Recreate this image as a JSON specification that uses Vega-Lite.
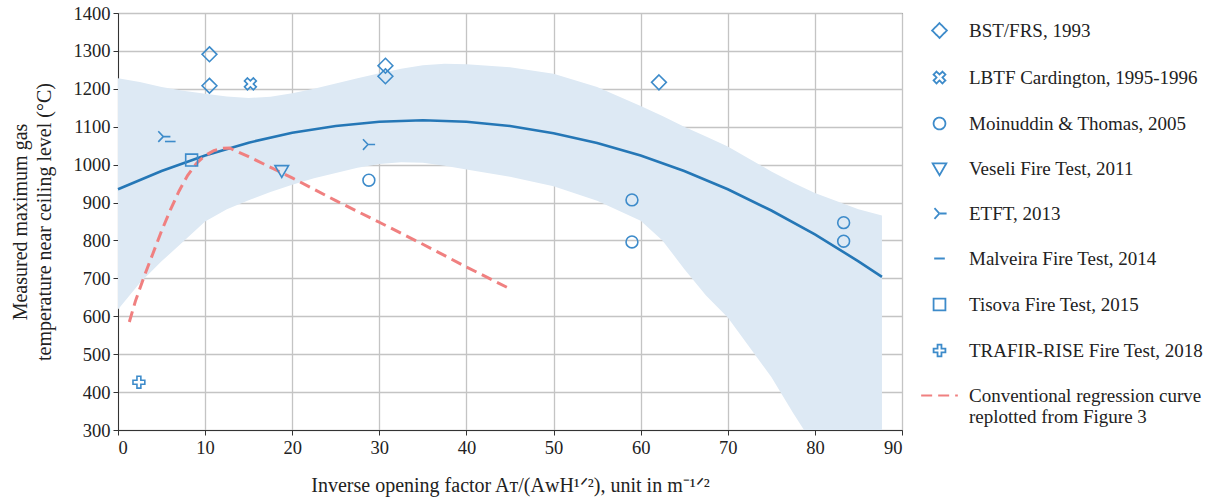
{
  "$schema": "https://vega.github.io/schema/vega-lite/v6.json",
  "autosize": {"type": "none"},
  "padding": {"left": 118, "top": 13, "right": 318, "bottom": 71},
  "width": 784,
  "height": 417,
  "background": "white",
  "config": {
    "font": "Liberation Serif",
    "view": {"stroke": "#333333", "strokeWidth": 1},
    "axis": {
      "labelFont": "Liberation Serif", "labelFontSize": 18.5, "labelColor": "#222222",
      "titleFont": "Liberation Serif", "titleFontSize": 20, "titleFontWeight": "normal", "titleColor": "#222222",
      "tickColor": "#333333", "tickSize": 5, "domainColor": "#333333",
      "gridColor": "#c4c4c4", "gridWidth": 1.3, "labelOverlap": false
    },
    "legend": {
      "labelFont": "Liberation Serif", "labelFontSize": 19, "labelColor": "#222222"
    }
  },
  "datasets": {
    "points": [
      {"series": "BST/FRS, 1993", "x": 10.5, "y": 1291},
      {"series": "BST/FRS, 1993", "x": 10.5, "y": 1208},
      {"series": "BST/FRS, 1993", "x": 30.7, "y": 1261},
      {"series": "BST/FRS, 1993", "x": 30.7, "y": 1233},
      {"series": "BST/FRS, 1993", "x": 62.1, "y": 1217},
      {"series": "LBTF Cardington, 1995-1996", "x": 15.2, "y": 1213},
      {"series": "Moinuddin & Thomas, 2005", "x": 28.8, "y": 959},
      {"series": "Moinuddin & Thomas, 2005", "x": 59.0, "y": 907},
      {"series": "Moinuddin & Thomas, 2005", "x": 59.0, "y": 796},
      {"series": "Moinuddin & Thomas, 2005", "x": 83.3, "y": 847},
      {"series": "Moinuddin & Thomas, 2005", "x": 83.3, "y": 798},
      {"series": "Veseli Fire Test, 2011", "x": 18.8, "y": 984},
      {"series": "ETFT, 2013", "x": 5.2, "y": 1074},
      {"series": "ETFT, 2013", "x": 28.7, "y": 1053},
      {"series": "Malveira Fire Test, 2014", "x": 6.0, "y": 1061},
      {"series": "Tisova Fire Test, 2015", "x": 8.45, "y": 1012},
      {"series": "TRAFIR-RISE Fire Test, 2018", "x": 2.4, "y": 426}
    ],
    "fit": [
      {"x": 0, "y": 935}, {"x": 5, "y": 983}, {"x": 10, "y": 1024}, {"x": 15, "y": 1058},
      {"x": 20, "y": 1084}, {"x": 25, "y": 1102}, {"x": 30, "y": 1113}, {"x": 35, "y": 1117},
      {"x": 40, "y": 1113}, {"x": 45, "y": 1102}, {"x": 50, "y": 1083}, {"x": 55, "y": 1057},
      {"x": 60, "y": 1024}, {"x": 65, "y": 983}, {"x": 70, "y": 935}, {"x": 75, "y": 879},
      {"x": 80, "y": 816}, {"x": 85, "y": 745}, {"x": 87.7, "y": 704}
    ],
    "band": [
      {"x": 0, "lo": 618, "hi": 1228}, {"x": 2.5, "lo": 688, "hi": 1218},
      {"x": 5, "lo": 745, "hi": 1205}, {"x": 7.5, "lo": 797, "hi": 1195},
      {"x": 10, "lo": 850, "hi": 1187}, {"x": 12.5, "lo": 882, "hi": 1180},
      {"x": 15, "lo": 906, "hi": 1176}, {"x": 17.5, "lo": 928, "hi": 1179},
      {"x": 20, "lo": 947, "hi": 1188}, {"x": 22.5, "lo": 964, "hi": 1200},
      {"x": 25, "lo": 978, "hi": 1214}, {"x": 27.5, "lo": 992, "hi": 1228},
      {"x": 30, "lo": 1002, "hi": 1241}, {"x": 32.5, "lo": 1006, "hi": 1253},
      {"x": 35, "lo": 1005, "hi": 1262}, {"x": 37.5, "lo": 997, "hi": 1266},
      {"x": 40, "lo": 987, "hi": 1265}, {"x": 45, "lo": 968, "hi": 1257},
      {"x": 50, "lo": 943, "hi": 1240}, {"x": 55, "lo": 905, "hi": 1205},
      {"x": 60, "lo": 852, "hi": 1155}, {"x": 62.5, "lo": 800, "hi": 1128},
      {"x": 65, "lo": 725, "hi": 1100}, {"x": 67.5, "lo": 655, "hi": 1074},
      {"x": 70, "lo": 597, "hi": 1048}, {"x": 72.5, "lo": 518, "hi": 1015},
      {"x": 75, "lo": 440, "hi": 982}, {"x": 77.5, "lo": 345, "hi": 952},
      {"x": 80, "lo": 255, "hi": 925}, {"x": 85, "lo": 140, "hi": 882},
      {"x": 87.7, "lo": 90, "hi": 866}
    ],
    "conv": [
      {"series": "Conventional regression curve replotted from Figure 3", "x": 1.3, "y": 585},
      {"series": "Conventional regression curve replotted from Figure 3", "x": 2, "y": 640},
      {"series": "Conventional regression curve replotted from Figure 3", "x": 3, "y": 705},
      {"series": "Conventional regression curve replotted from Figure 3", "x": 4, "y": 765},
      {"series": "Conventional regression curve replotted from Figure 3", "x": 5, "y": 825},
      {"series": "Conventional regression curve replotted from Figure 3", "x": 6, "y": 880},
      {"series": "Conventional regression curve replotted from Figure 3", "x": 7, "y": 930},
      {"series": "Conventional regression curve replotted from Figure 3", "x": 8, "y": 972},
      {"series": "Conventional regression curve replotted from Figure 3", "x": 9, "y": 1003},
      {"series": "Conventional regression curve replotted from Figure 3", "x": 10, "y": 1024},
      {"series": "Conventional regression curve replotted from Figure 3", "x": 11, "y": 1037},
      {"series": "Conventional regression curve replotted from Figure 3", "x": 12, "y": 1043},
      {"series": "Conventional regression curve replotted from Figure 3", "x": 12.8, "y": 1044},
      {"series": "Conventional regression curve replotted from Figure 3", "x": 15, "y": 1021},
      {"series": "Conventional regression curve replotted from Figure 3", "x": 20, "y": 965},
      {"series": "Conventional regression curve replotted from Figure 3", "x": 25, "y": 905},
      {"series": "Conventional regression curve replotted from Figure 3", "x": 30, "y": 848},
      {"series": "Conventional regression curve replotted from Figure 3", "x": 35, "y": 790},
      {"series": "Conventional regression curve replotted from Figure 3", "x": 40, "y": 730},
      {"series": "Conventional regression curve replotted from Figure 3", "x": 45.2, "y": 670}
    ]
  },
  "layer": [
    {
      "data": {"name": "band"},
      "mark": {"type": "area", "color": "#dde9f4", "opacity": 1, "clip": true},
      "encoding": {
        "x": {"field": "x", "type": "quantitative",
          "scale": {"domain": [0, 90], "nice": false},
          "axis": {"values": [0,10,20,30,40,50,60,70,80,90], "tickCount": 20, "format": "d", "grid": true, "labelPadding": 3, "titlePadding": 19,
            "title": "Inverse opening factor Aᴛ/(AᴡH¹ᐟ²), unit in m⁻¹ᐟ²"}},
        "y": {"field": "lo", "type": "quantitative",
          "scale": {"domain": [300, 1400], "nice": false},
          "axis": {"values": [300,400,500,600,700,800,900,1000,1100,1200,1300,1400], "tickCount": 20, "format": "d", "grid": true, "labelPadding": 3, "titlePadding": 19, "titleLineHeight": 24,
            "title": ["Measured maximum gas", "temperature near ceiling level  (°C)"]}},
        "y2": {"field": "hi"}
      }
    },
    {
      "data": {"name": "fit"},
      "mark": {"type": "line", "color": "#2577b6", "strokeWidth": 2.6},
      "encoding": {
        "x": {"field": "x", "type": "quantitative"},
        "y": {"field": "y", "type": "quantitative"}
      }
    },
    {
      "data": {"name": "conv"},
      "mark": {"type": "line", "strokeWidth": 3},
      "encoding": {
        "x": {"field": "x", "type": "quantitative"},
        "y": {"field": "y", "type": "quantitative"},
        "color": {"field": "series", "type": "nominal"},
        "strokeDash": {"field": "series", "type": "nominal",
          "scale": {
            "domain": ["BST/FRS, 1993", "LBTF Cardington, 1995-1996", "Moinuddin & Thomas, 2005", "Veseli Fire Test, 2011", "ETFT, 2013", "Malveira Fire Test, 2014", "Tisova Fire Test, 2015", "TRAFIR-RISE Fire Test, 2018", "Conventional regression curve replotted from Figure 3"],
            "range": [[1,0],[1,0],[1,0],[1,0],[1,0],[1,0],[1,0],[1,0],[11,6]]
          }}
      }
    },
    {
      "data": {"name": "points"},
      "mark": {"type": "point", "filled": false, "strokeWidth": 1.6, "size": 140, "opacity": 1},
      "encoding": {
        "x": {"field": "x", "type": "quantitative"},
        "y": {"field": "y", "type": "quantitative"},
        "color": {"field": "series", "type": "nominal",
          "scale": {
            "domain": ["BST/FRS, 1993", "LBTF Cardington, 1995-1996", "Moinuddin & Thomas, 2005", "Veseli Fire Test, 2011", "ETFT, 2013", "Malveira Fire Test, 2014", "Tisova Fire Test, 2015", "TRAFIR-RISE Fire Test, 2018", "Conventional regression curve replotted from Figure 3"],
            "range": ["#3d8bca","#3d8bca","#3d8bca","#3d8bca","#3d8bca","#3d8bca","#3d8bca","#3d8bca","#f08080"]
          },
          "legend": {
            "title": null, "orient": "none", "legendX": 812, "legendY": 8,
            "rowPadding": 25, "labelOffset": 20, "labelLimit": 400, "symbolSize": 140, "symbolStrokeWidth": 1.8,
            "labelExpr": "datum.label == 'Conventional regression curve replotted from Figure 3' ? ['Conventional regression curve', 'replotted from Figure 3'] : datum.label"
          }},
        "shape": {"field": "series", "type": "nominal",
          "scale": {
            "domain": ["BST/FRS, 1993", "LBTF Cardington, 1995-1996", "Moinuddin & Thomas, 2005", "Veseli Fire Test, 2011", "ETFT, 2013", "Malveira Fire Test, 2014", "Tisova Fire Test, 2015", "TRAFIR-RISE Fire Test, 2018", "Conventional regression curve replotted from Figure 3"],
            "range": [
              "M0,-1.25L1.25,0L0,1.25L-1.25,0Z",
              "M-0.5,-1L0,-0.5L0.5,-1L1,-0.5L0.5,0L1,0.5L0.5,1L0,0.5L-0.5,1L-1,0.5L-0.5,0L-1,-0.5Z",
              "circle",
              "M-1.15,-0.85L1.15,-0.85L0,1.15Z",
              "M0,0L1.2,0M0,0L-0.85,-0.9M0,0L-0.85,0.9",
              "M-0.9,0L0.9,0",
              "square",
              "M-0.33,-1L0.33,-1L0.33,-0.33L1,-0.33L1,0.33L0.33,0.33L0.33,1L-0.33,1L-0.33,0.33L-1,0.33L-1,-0.33L-0.33,-0.33Z",
              "M-3.1,0L3.1,0"
            ]
          }}
      }
    }
  ]
}
